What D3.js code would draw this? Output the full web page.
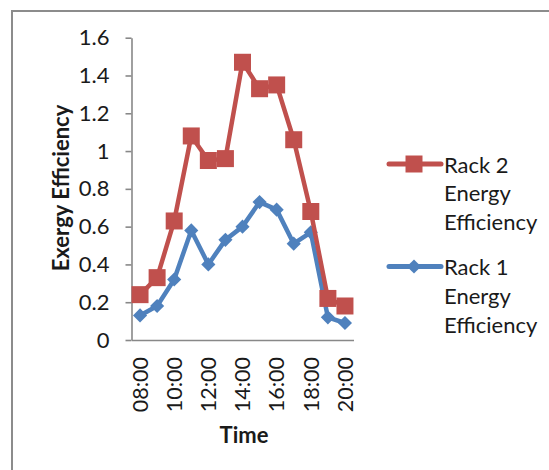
<!DOCTYPE html>
<html>
<head>
<meta charset="utf-8">
<script src="https://cdn.jsdelivr.net/npm/d3@7/dist/d3.min.js"></script>
<style>
  body { margin: 0; background: #fff; }
  text { font-family: Lato, "Open Sans", sans-serif; fill: #1a1a1a; }
</style>
</head>
<body>
<script>

// data
const times = ["08:00", "09:00", "10:00", "11:00", "12:00", "13:00", "14:00",
               "15:00", "16:00", "17:00", "18:00", "19:00", "20:00"];
const timeLabels = ["08:00", "10:00", "12:00", "14:00", "16:00", "18:00", "20:00"];
const rack1 = [0.13, 0.18, 0.32, 0.58, 0.40, 0.53, 0.60, 0.73, 0.69, 0.51, 0.57, 0.12, 0.09];
const rack2 = [0.24, 0.33, 0.63, 1.08, 0.95, 0.96, 1.47, 1.33, 1.35, 1.06, 0.68, 0.22, 0.18];
const yTicks = [0, 0.2, 0.4, 0.6, 0.8, 1, 1.2, 1.4, 1.6];
const yTickLabels = ["0", "0.2", "0.4", "0.6", "0.8", "1", "1.2", "1.4", "1.6"];

const series = [
  { name: ["Rack 1", "Energy", "Efficiency"], values: rack1, color: "#4f81bd", marker: "diamond", legendY: 266.5 },
  { name: ["Rack 2", "Energy", "Efficiency"], values: rack2, color: "#c0504d", marker: "square", legendY: 164 }
];

const W = 549, H = 470;
const svg = d3.select("body").append("svg")
  .attr("width", W)
  .attr("height", H);

svg.append("rect").attr("width", W).attr("height", H).attr("fill", "#fff");

// chart frame (runs off the right and bottom)
svg.append("rect")
  .attr("x", 12).attr("y", 11)
  .attr("width", 600).attr("height", 500)
  .attr("fill", "none")
  .attr("stroke", "#8c8c8c")
  .attr("stroke-width", 2);

const x = d3.scaleBand()
  .domain(times)
  .range([131.5, 353.5])
  .paddingInner(0).paddingOuter(0);

const y = d3.scaleLinear()
  .domain([0, 1.6])
  .range([340, 37.7]);

const cx = d => x(d) + x.bandwidth() / 2;

// y axis
const yAxis = svg.append("g")
  .attr("transform", `translate(${x.range()[0]},0)`)
  .call(d3.axisLeft(y)
    .tickValues(yTicks)
    .tickFormat((d, i) => yTickLabels[i])
    .tickSize(6)
    .tickSizeOuter(0)
    .tickPadding(16));
yAxis.selectAll("text").style("font-size", "22px").attr("fill", "#1a1a1a");

// x axis
const xAxis = svg.append("g")
  .attr("transform", `translate(0,${y(0)})`)
  .call(d3.axisBottom(x)
    .tickValues(timeLabels)
    .tickSize(0)
    .tickSizeOuter(0));
xAxis.selectAll("text")
  .style("font-size", "21.5px")
  .attr("fill", "#1a1a1a")
  .attr("transform", "rotate(-90)")
  .attr("x", -17)
  .attr("y", 0)
  .attr("dy", "0.36em")
  .style("text-anchor", "end");

svg.selectAll(".domain, .tick line")
  .attr("stroke", "#888")
  .attr("stroke-width", 1.6);

// axis titles
svg.append("text")
  .attr("transform", "translate(60,188) rotate(-90)")
  .attr("text-anchor", "middle")
  .attr("dominant-baseline", "central")
  .style("font-size", "22px")
  .style("font-weight", "bold")
  .text("Exergy Efficiency");

svg.append("text")
  .attr("x", 244).attr("y", 434)
  .attr("text-anchor", "middle")
  .attr("dominant-baseline", "central")
  .style("font-size", "22px")
  .style("font-weight", "bold")
  .text("Time");

const line = d3.line()
  .x((d, i) => cx(times[i]))
  .y(d => y(d));

function marker(g, type, color) {
  if (type === "square") {
    g.append("path")
      .attr("d", d3.symbol(d3.symbolSquare, 17 * 17)())
      .attr("fill", color);
  } else {
    g.append("path")
      .attr("d", d3.symbol(d3.symbolSquare, 10 * 10)())
      .attr("transform", "rotate(45)")
      .attr("fill", color);
  }
}

series.forEach(s => {
  svg.append("path")
    .datum(s.values)
    .attr("d", line)
    .attr("fill", "none")
    .attr("stroke", s.color)
    .attr("stroke-width", 4.5)
    .attr("stroke-linejoin", "round");

  svg.selectAll(null)
    .data(s.values)
    .enter()
    .append("g")
    .attr("transform", (d, i) => `translate(${cx(times[i])},${y(d)})`)
    .each(function () { marker(d3.select(this), s.marker, s.color); });

  // legend
  const lg = svg.append("g").attr("transform", `translate(0,${s.legendY})`);
  lg.append("line")
    .attr("x1", 389).attr("x2", 441)
    .attr("stroke", s.color)
    .attr("stroke-width", 5)
    .attr("stroke-linecap", "round");
  marker(lg.append("g").attr("transform", "translate(414,0)"), s.marker, s.color);
  s.name.forEach((t, i) => {
    lg.append("text")
      .attr("x", 444)
      .attr("y", i * 28.8)
      .attr("dominant-baseline", "central")
      .style("font-size", "22px")
      .text(t);
  });
});

</script>
</body>
</html>
